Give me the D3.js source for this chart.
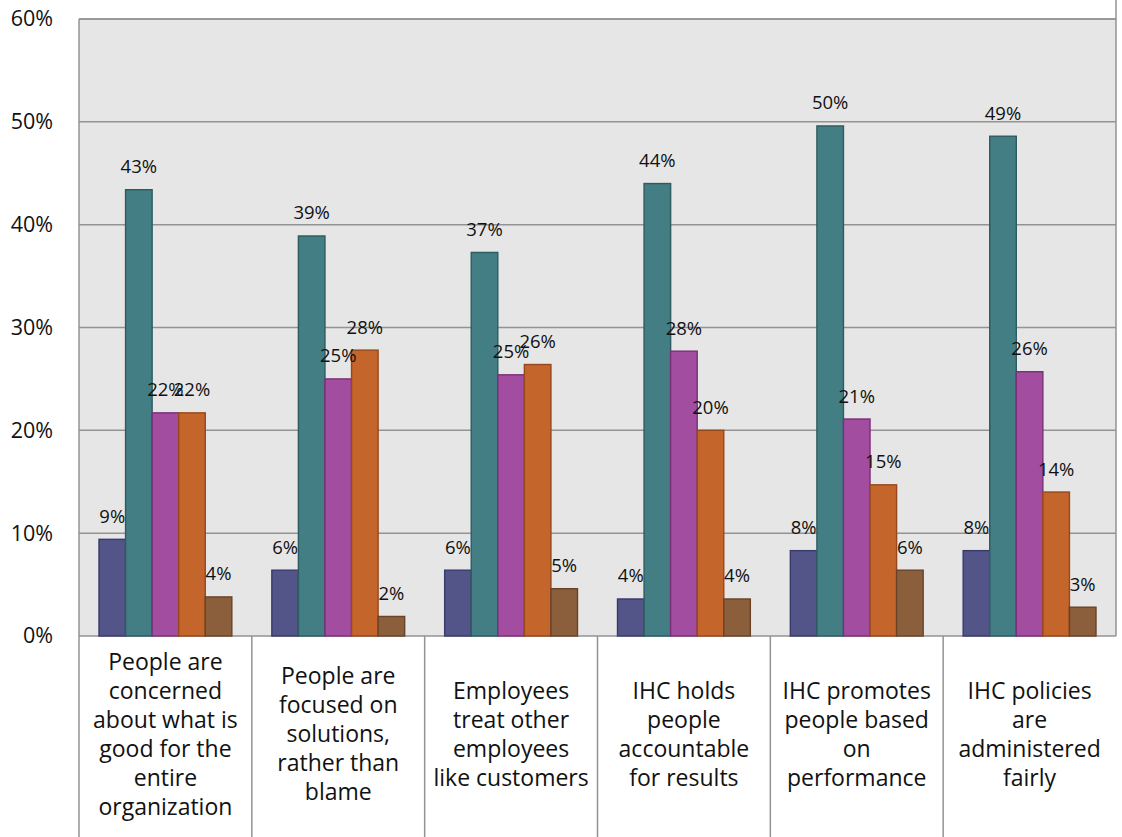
<!DOCTYPE html>
<html>
<head>
<meta charset="utf-8">
<script src="https://cdn.jsdelivr.net/npm/d3@7"></script>
<style>
  html, body { margin: 0; padding: 0; background: #ffffff; }
  svg { display: block; font-family: "Open Sans", "Noto Sans", sans-serif; }
</style>
</head>
<body>
<svg id="chart" width="1122" height="837"></svg>
<script>
// Survey statements (category axis), each label split into its display lines
const categories = [
  ["People are", "concerned", "about what is", "good for the", "entire", "organization"],
  ["People are", "focused on", "solutions,", "rather than", "blame"],
  ["Employees", "treat other", "employees", "like customers"],
  ["IHC holds", "people", "accountable", "for results"],
  ["IHC promotes", "people based", "on", "performance"],
  ["IHC policies", "are", "administered", "fairly"]
];

// Five response series, percent per category
const series1 = [9.4, 6.4, 6.4, 3.6, 8.3, 8.3];
const series2 = [43.4, 38.9, 37.3, 44.0, 49.6, 48.6];
const series3 = [21.7, 25.0, 25.4, 27.7, 21.1, 25.7];
const series4 = [21.7, 27.8, 26.4, 20.0, 14.7, 14.0];
const series5 = [3.8, 1.9, 4.6, 3.6, 6.4, 2.8];

const yTicks = [0, 10, 20, 30, 40, 50, 60];
const yTickLabels = ["0%", "10%", "20%", "30%", "40%", "50%", "60%"];

const seriesList = [series1, series2, series3, series4, series5];
const fills   = ["#535488", "#427e83", "#a24da0", "#c4652c", "#8b5e3c"];
const strokes = ["#383a6c", "#2d5c60", "#7a2f78", "#96481c", "#684327"];

const svg = d3.select("#chart");
const plotLeft = 79, plotRight = 1116, plotTop = 19, plotBottom = 636;

const x = d3.scaleBand().domain(d3.range(categories.length)).range([plotLeft, plotRight]).padding(0);
const bw = x.bandwidth();
const xs = d3.scaleBand().domain(d3.range(seriesList.length)).range([20, bw - 20]).padding(0);
const y = d3.scaleLinear().domain([0, 60]).range([plotBottom, plotTop]);

// plot background
svg.append("rect")
  .attr("x", plotLeft).attr("y", plotTop)
  .attr("width", plotRight - plotLeft).attr("height", plotBottom - plotTop)
  .attr("fill", "#e6e6e6");

// horizontal gridlines
svg.append("g")
  .selectAll("line")
  .data(yTicks)
  .join("line")
  .attr("x1", plotLeft).attr("x2", plotRight)
  .attr("y1", d => y(d)).attr("y2", d => y(d))
  .attr("stroke", "#939393").attr("stroke-width", 1.5);

// value axis labels
const yAxis = d3.axisLeft(y)
  .tickValues(yTicks)
  .tickFormat((d, i) => yTickLabels[i])
  .tickSize(0)
  .tickPadding(26);
const yAxisG = svg.append("g").attr("transform", `translate(${plotLeft},0)`).call(yAxis);
yAxisG.select(".domain").remove();
yAxisG.selectAll("text")
  .attr("font-size", 21.5)
  .attr("fill", "#111")
  .attr("font-family", "Open Sans, sans-serif");

// bars
const rows = [];
seriesList.forEach((s, si) => s.forEach((v, ci) => rows.push({ si, ci, v })));

svg.append("g")
  .selectAll("rect")
  .data(rows)
  .join("rect")
  .attr("x", d => x(d.ci) + xs(d.si))
  .attr("y", d => y(d.v))
  .attr("width", xs.bandwidth())
  .attr("height", d => y(0) - y(d.v))
  .attr("fill", d => fills[d.si])
  .attr("stroke", d => strokes[d.si])
  .attr("stroke-width", 1.4);

// data labels
svg.append("g")
  .selectAll("text")
  .data(rows)
  .join("text")
  .attr("x", d => x(d.ci) + xs(d.si) + xs.bandwidth() / 2)
  .attr("y", d => y(d.v) - 16.5)
  .attr("text-anchor", "middle")
  .attr("font-size", 18.5)
  .attr("fill", "#111")
  .text(d => Math.round(d.v) + "%");

// frame: left axis line (runs down through the category table), top and right edges
svg.append("line")
  .attr("x1", plotLeft).attr("x2", plotLeft).attr("y1", plotTop).attr("y2", 837)
  .attr("stroke", "#939393").attr("stroke-width", 1.5);
svg.append("line")
  .attr("x1", plotRight).attr("x2", plotRight).attr("y1", 0).attr("y2", plotBottom)
  .attr("stroke", "#939393").attr("stroke-width", 1.5);
svg.append("line")
  .attr("x1", plotLeft).attr("x2", plotRight).attr("y1", plotTop).attr("y2", plotTop)
  .attr("stroke", "#939393").attr("stroke-width", 1.5);

// category table separators
svg.append("g")
  .selectAll("line")
  .data(d3.range(1, categories.length))
  .join("line")
  .attr("x1", d => x(d)).attr("x2", d => x(d))
  .attr("y1", plotBottom).attr("y2", 837)
  .attr("stroke", "#939393").attr("stroke-width", 1.5);

// category labels
const lineH = 29, midBaseline = 742;
const catG = svg.append("g");
categories.forEach((lines, ci) => {
  const t = catG.append("text")
    .attr("text-anchor", "middle")
    .attr("font-size", 23)
    .attr("fill", "#111");
  lines.forEach((ln, i) => {
    t.append("tspan")
      .attr("x", x(ci) + bw / 2)
      .attr("y", midBaseline + (i - (lines.length - 1) / 2) * lineH)
      .text(ln);
  });
});
</script>
</body>
</html>
